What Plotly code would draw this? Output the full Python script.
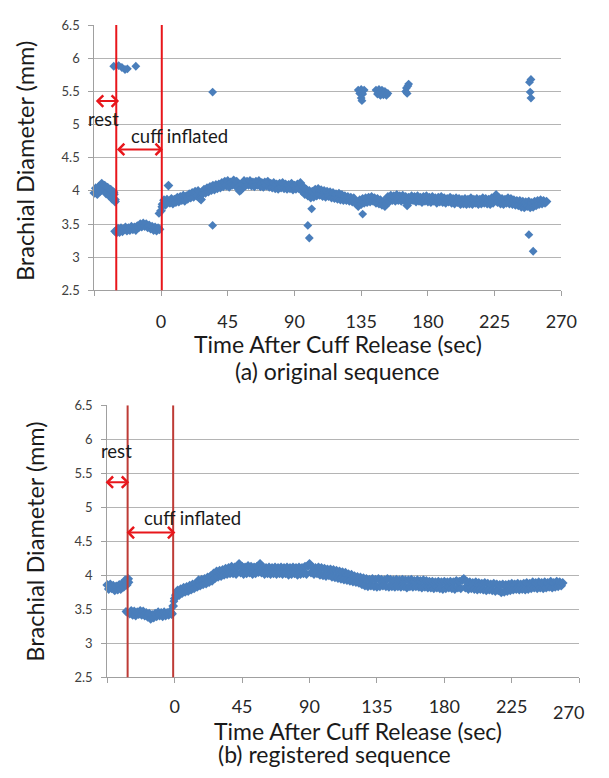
import plotly.graph_objects as go

# ---------------------------------------------------------------
# Values (brachial diameter in mm, time in s)
# ---------------------------------------------------------------
x_tick_vals = [-45, 0, 45, 90, 135, 180, 225, 270]
x_tick_text = ["", "0", "45", "90", "135", "180", "225", "270"]
y_tick_vals = [2.5, 3, 3.5, 4, 4.5, 5, 5.5, 6, 6.5]
y_tick_text = ["2.5", "3", "3.5", "4", "4.5", "5", "5.5", "6", "6.5"]

# (a) original sequence, one sample per second
t_a_rest_start = -45
d_a_rest = [3.97, 4.04, 3.95, 4.06, 4.00, 4.11, 4.03, 4.08, 3.96, 4.05,
            3.93, 4.02, 3.88, 3.98, 3.84]
t_a_cuff_start = -30
d_a_cuff = [3.37, 3.43, 3.38, 3.44, 3.39, 3.42, 3.45, 3.40, 3.44, 3.41,
            3.46, 3.42, 3.45, 3.41, 3.47, 3.45, 3.50, 3.46, 3.51, 3.47,
            3.50, 3.45, 3.48, 3.43, 3.46, 3.41, 3.45, 3.40, 3.44, 3.42]
t_a_post_start = 0
d_a_post = [3.70, 3.80, 3.86, 3.79, 3.87, 4.08, 3.82, 3.88, 3.81, 3.87,
            3.83, 3.90, 3.84, 3.91, 3.86, 3.93, 3.85, 3.92, 3.88, 3.95,
            3.90, 3.97, 3.91, 3.99, 3.93, 4.00, 3.89, 3.87, 3.96, 4.02,
            3.97, 4.04, 3.99, 4.06, 4.01, 4.08, 4.02, 4.09, 4.04, 4.10,
            4.05, 4.12, 4.07, 4.14, 4.08, 4.15, 4.06, 4.13, 4.09, 4.16,
            4.08, 4.14, 4.05, 4.00, 4.02, 4.10, 4.15, 4.08, 4.14, 4.09,
            4.15, 4.08, 4.13, 4.07, 4.14, 4.09, 4.15, 4.07, 4.12, 4.06,
            4.13, 4.08, 4.14, 4.06, 4.11, 4.05, 4.12, 4.04, 4.10, 4.03,
            4.11, 4.05, 4.12, 4.04, 4.10, 4.03, 4.09, 4.04, 4.11, 4.02,
            4.08, 4.03, 4.10, 4.04, 4.12, 4.00, 4.06, 3.95, 4.02, 3.93,
            4.00, 3.90, 3.99, 3.91, 4.02, 3.93, 4.03, 3.94, 4.01, 3.92,
            4.00, 3.91, 3.99, 3.92, 3.98, 3.90, 3.97, 3.89, 3.95, 3.88,
            3.96, 3.87, 3.94, 3.86, 3.92, 3.86, 3.91, 3.85, 3.90, 3.84,
            3.89, 3.83, 3.80, 3.77, 3.86, 3.80, 3.88, 3.82, 3.89, 3.83,
            3.90, 3.84, 3.91, 3.85, 3.89, 3.82, 3.88, 3.81, 3.86, 3.79,
            3.84, 3.77, 3.82, 3.91, 3.84, 3.93, 3.86, 3.92, 3.85, 3.94,
            3.86, 3.92, 3.85, 3.93, 3.86, 3.91, 3.78, 3.90, 3.85, 3.92,
            3.86, 3.91, 3.84, 3.92, 3.85, 3.90, 3.83, 3.91, 3.85, 3.92,
            3.84, 3.90, 3.83, 3.91, 3.85, 3.89, 3.82, 3.90, 3.84, 3.91,
            3.83, 3.89, 3.82, 3.88, 3.84, 3.90, 3.82, 3.88, 3.81, 3.89,
            3.83, 3.88, 3.80, 3.87, 3.81, 3.88, 3.80, 3.87, 3.81, 3.89,
            3.80, 3.87, 3.82, 3.88, 3.80, 3.87, 3.81, 3.89, 3.82, 3.88,
            3.81, 3.87, 3.80, 3.89, 3.82, 3.91, 3.94, 3.83, 3.89, 3.81,
            3.88, 3.80, 3.87, 3.82, 3.89, 3.81, 3.88, 3.80, 3.86, 3.79,
            3.85, 3.78, 3.85, 3.76, 3.84, 3.75, 3.83, 3.77, 3.84, 3.75,
            3.82, 3.76, 3.84, 3.78, 3.85, 3.80, 3.86, 3.81, 3.85, 3.82,
            3.84]
# points off the main trace (tracking errors, phase edges)
t_a_out = [-31.5, -30.8, -31.3, -1.4, 0.5,
           -31.9, -28.6, -26.4, -24.3, -22.7, -17.0,
           34.8, 34.8, 99.0, 100.0, 101.6,
           133.0, 135.0, 137.0, 134.0, 136.0, 135.0, 135.5, 136.0,
           145.0, 147.0, 149.0, 151.0, 146.0, 148.0, 150.0, 152.0, 153.0,
           165.0, 165.5, 166.5, 167.0, 166.0,
           248.5, 249.5, 249.0, 249.5, 248.1, 251.0]
d_a_out = [3.95, 3.87, 3.39, 3.66, 3.76,
           5.88, 5.89, 5.86, 5.83, 5.84, 5.88,
           5.49, 3.48, 3.48, 3.29, 3.73,
           5.52, 5.53, 5.52, 5.47, 5.46, 5.40, 5.36, 3.65,
           5.52, 5.53, 5.52, 5.50, 5.46, 5.44, 5.45, 5.44, 5.47,
           5.50, 5.55, 5.58, 5.61, 5.47,
           5.64, 5.68, 5.49, 5.40, 3.34, 3.09]
cuff_on_a, cuff_off_a = -30.2, 0.5

# (b) registered sequence, one sample per second
t_b_rest_start = -45
d_b_rest = [3.86, 3.80, 3.87, 3.81, 3.85, 3.78, 3.84, 3.79, 3.86, 3.80,
            3.88, 3.83, 3.93, 3.86, 3.95]
t_b_cuff_start = -30
d_b_cuff = [3.44, 3.48, 3.42, 3.47, 3.41, 3.46, 3.43, 3.48, 3.42, 3.47,
            3.41, 3.45, 3.39, 3.44, 3.36, 3.42, 3.38, 3.44, 3.40, 3.46,
            3.41, 3.45, 3.40, 3.46, 3.41, 3.45, 3.42, 3.47, 3.43]
t_b_post_start = -1
d_b_post = [3.55, 3.66,
            3.72, 3.78, 3.71, 3.80, 3.74, 3.82, 3.76, 3.83, 3.77,
            3.85, 3.79, 3.87, 3.81, 3.88, 3.83, 3.93, 3.85, 3.94, 3.87,
            3.95, 3.88, 3.97, 3.90, 3.99, 3.92, 4.03, 3.96, 4.06, 3.98,
            4.07, 3.99, 4.08, 4.01, 4.10, 4.02, 4.11, 4.03, 4.13, 4.03,
            4.12, 4.02, 4.13, 4.17, 4.04, 4.13, 4.02, 4.12, 4.03, 4.14,
            4.04, 4.13, 4.02, 4.12, 4.03, 4.13, 4.05, 4.17, 4.04, 4.12,
            4.02, 4.11, 4.03, 4.12, 4.02, 4.11, 4.03, 4.12, 4.02, 4.11,
            4.03, 4.12, 4.02, 4.11, 4.03, 4.12, 4.01, 4.11, 4.02, 4.12,
            4.03, 4.11, 4.01, 4.12, 4.02, 4.11, 4.03, 4.13, 4.02, 4.14,
            4.17, 4.04, 4.12, 4.02, 4.11, 4.03, 4.12, 4.01, 4.11, 4.00,
            4.10, 3.99, 4.09, 4.00, 4.09, 3.98, 4.08, 3.97, 4.07, 3.96,
            4.06, 3.95, 4.05, 3.94, 4.04, 3.93, 4.02, 3.92, 4.01, 3.91,
            3.99, 3.90, 3.98, 3.89, 3.97, 3.87, 3.96, 3.85, 3.95, 3.84,
            3.94, 3.85, 3.95, 3.84, 3.94, 3.83, 3.95, 3.84, 3.94, 3.85,
            3.93, 3.84, 3.95, 3.83, 3.94, 3.84, 3.93, 3.83, 3.94, 3.84,
            3.93, 3.83, 3.94, 3.84, 3.93, 3.82, 3.93, 3.84, 3.94, 3.83,
            3.92, 3.84, 3.93, 3.83, 3.92, 3.82, 3.93, 3.83, 3.92, 3.82,
            3.91, 3.82, 3.91, 3.81, 3.90, 3.82, 3.91, 3.81, 3.90, 3.80,
            3.91, 3.81, 3.90, 3.82, 3.91, 3.81, 3.90, 3.80, 3.92, 3.82,
            3.91, 3.81, 3.93, 3.95, 3.82, 3.91, 3.80, 3.90, 3.81, 3.89,
            3.80, 3.90, 3.79, 3.89, 3.80, 3.88, 3.79, 3.89, 3.78, 3.88,
            3.79, 3.87, 3.78, 3.88, 3.77, 3.87, 3.78, 3.86, 3.75, 3.87,
            3.76, 3.86, 3.77, 3.87, 3.78, 3.88, 3.79, 3.87, 3.80, 3.88,
            3.79, 3.87, 3.80, 3.88, 3.79, 3.89, 3.80, 3.88, 3.81, 3.90,
            3.82, 3.89, 3.81, 3.90, 3.82, 3.89, 3.81, 3.90, 3.82, 3.89,
            3.83, 3.91, 3.82, 3.89, 3.83, 3.91, 3.84, 3.90, 3.85, 3.89]
t_b_out = [-32.5, -31.5, -30.5, -1.5, -0.5, 0.5]
d_b_out = [3.47, 3.45, 3.90, 3.44, 3.62, 3.70]
cuff_on_b, cuff_off_b = -31.4, -1.0


def _seconds(start, values):
    """time stamps of a 1 Hz segment"""
    return [start + i for i in range(len(values))]


BLUE = "#4A7EBB"
RED = "#E8161B"
DARK_RED = "#BE3B36"
GRID = "#B4B4B4"
AXIS = "#A0A0A0"
FONT = "Lato"

# the page keeps its default 8px body margin, so the figure is 16px smaller
# than the 609x778 window and fills it exactly
FIG_W, FIG_H = 593, 762

fig = go.Figure()

# in (b) the last label is pulled inside the picture, so it is drawn separately
x_tick_text_b = x_tick_text[:-1] + [""]

panels = [
    dict(sfx="", xdom=[0.1496, 0.9590], ydom=[0.6322, 0.9878],
         segs=[(t_a_rest_start, d_a_rest), (t_a_cuff_start, d_a_cuff),
               (t_a_post_start, d_a_post)],
         out=(t_a_out, d_a_out), lines=(cuff_on_a, cuff_off_a), line_color=RED,
         ticktext=x_tick_text, standoff=10),
    dict(sfx="2", xdom=[0.1720, 0.9899], ydom=[0.1133, 0.4781],
         segs=[(t_b_rest_start, d_b_rest), (t_b_cuff_start, d_b_cuff),
               (t_b_post_start, d_b_post)],
         out=(t_b_out, d_b_out), lines=(cuff_on_b, cuff_off_b), line_color=DARK_RED,
         ticktext=x_tick_text_b, standoff=8),
]

for p in panels:
    xa, ya = "x" + p["sfx"], "y" + p["sfx"]
    t, d = [], []
    for start, vals in p["segs"]:
        t += _seconds(start, vals)
        d += vals

    # main trace (dense, slightly bigger markers so it reads as a band)
    fig.add_trace(go.Scatter(
        x=t, y=d, mode="markers", xaxis=xa, yaxis=ya,
        marker=dict(symbol="diamond", size=7.5, color=BLUE, line=dict(width=0)),
        cliponaxis=False, hoverinfo="skip", showlegend=False
    ))
    # stray points
    fig.add_trace(go.Scatter(
        x=p["out"][0], y=p["out"][1], mode="markers", xaxis=xa, yaxis=ya,
        marker=dict(symbol="diamond", size=6.8, color=BLUE, line=dict(width=0)),
        cliponaxis=False, hoverinfo="skip", showlegend=False
    ))

    # cuff inflate / release markers
    for xv in p["lines"]:
        fig.add_shape(type="line", xref=xa, yref=ya, x0=xv, x1=xv, y0=2.5, y1=6.5,
                      line=dict(color=p["line_color"], width=2))

    fig.update_layout(**{
        "xaxis" + p["sfx"]: dict(
            domain=p["xdom"], anchor=ya, range=[-45, 270],
            tickmode="array", tickvals=x_tick_vals, ticktext=p["ticktext"],
            ticks="outside", ticklen=5, tickcolor=AXIS,
            showline=True, linecolor=AXIS, linewidth=1,
            showgrid=False, zeroline=False, fixedrange=True,
            tickfont=dict(family=FONT, size=18, color="#262626"),
            ticklabelstandoff=p["standoff"]
        ),
        "yaxis" + p["sfx"]: dict(
            domain=p["ydom"], anchor=xa, range=[2.5, 6.5],
            tickmode="array", tickvals=y_tick_vals, ticktext=y_tick_text,
            ticks="outside", ticklen=5, tickcolor=AXIS,
            showline=True, linecolor=AXIS, linewidth=1,
            showgrid=True, gridcolor=GRID, gridwidth=1,
            zeroline=False, fixedrange=True,
            tickfont=dict(family=FONT, size=13, color="#404040"),
            ticklabelstandoff=6
        ),
    })


def add_text(text, x, y, xref, yref, size, xanchor="center", color="#1A1A1A", **kw):
    fig.add_annotation(text=text, x=x, y=y, xref=xref, yref=yref, showarrow=False,
                       xanchor=xanchor, yanchor="middle", borderpad=0,
                       font=dict(family=FONT, size=size, color=color), **kw)


def add_span_arrow(x0, x1, y, xref, yref):
    fig.add_annotation(x=x1, y=y, ax=x0, ay=y, xref=xref, yref=yref,
                       axref=xref, ayref=yref, text="", showarrow=True,
                       arrowside="end+start", arrowhead=4, startarrowhead=4,
                       arrowsize=1.1, startarrowsize=1.1, arrowwidth=2,
                       arrowcolor=RED, standoff=0, startstandoff=0)


# last x label of (b), nudged left of its tick as in the original
add_text(x_tick_text[-1], x_tick_vals[-1], 2.5, "x2", "y2", 18, color="#262626",
         xshift=-11, yshift=-35)

# axis titles and captions
for ytitle_x, ytitle_y, xt_x, xt_y, cap_x, cap_y, cap in [
    (0.0287, 0.8049, 0.5725, 0.5608, 0.5695, 0.5235, "(a) original sequence"),
    (0.0469, 0.2953, 0.6071, 0.0413, 0.5659, 0.0104, "(b) registered sequence"),
]:
    add_text("Brachial Diameter (mm)", ytitle_x, ytitle_y, "paper", "paper", 23.5,
             textangle=-90)
    add_text("Time After Cuff Release (sec)", xt_x, xt_y, "paper", "paper", 23)
    add_text(cap, cap_x, cap_y, "paper", "paper", 23)

# phase labels (a)
add_text("rest", -38.6, 5.09, "x", "y", 18.5)
add_text("cuff inflated", -21.2, 4.83, "x", "y", 18.5, xanchor="left")
add_span_arrow(-45.0, -28.3, 5.355, "x", "y")
add_span_arrow(-30.8, 1.3, 4.626, "x", "y")

# phase labels (b)
add_text("rest", -38.8, 5.83, "x2", "y2", 18.5)
add_text("cuff inflated", -21.2, 4.85, "x2", "y2", 18.5, xanchor="left")
add_span_arrow(-47.1, -30.3, 5.37, "x2", "y2")
add_span_arrow(-33.1, 0.5, 4.63, "x2", "y2")

fig.update_layout(
    width=FIG_W, height=FIG_H,
    margin=dict(l=0, r=0, t=0, b=0),
    paper_bgcolor="white", plot_bgcolor="white",
    font=dict(family=FONT),
    showlegend=False
)

fig.write_html("out.html", config={"displayModeBar": False})
